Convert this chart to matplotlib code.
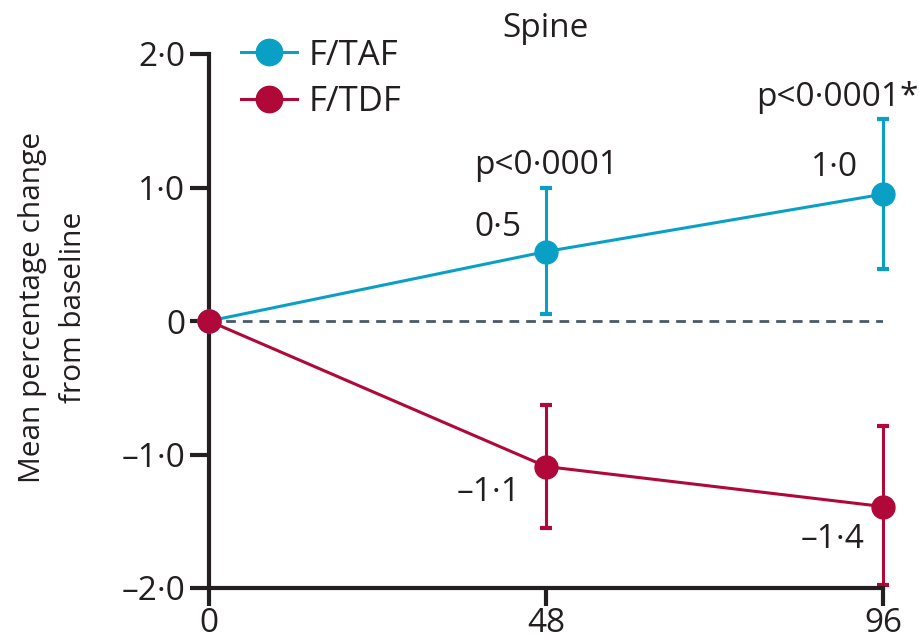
import matplotlib
matplotlib.use("Agg")
import matplotlib.pyplot as plt
from matplotlib.ticker import FixedLocator, FixedFormatter

# 数据
weeks = [0, 48, 96]
taf_mean = [0.0, 0.52, 0.95]
taf_low = [0.0, 0.05, 0.39]
taf_high = [0.0, 1.0, 1.51]
tdf_mean = [0.0, -1.09, -1.39]
tdf_low = [0.0, -1.55, -1.98]
tdf_high = [0.0, -0.63, -0.79]

taf_labels = ["", "0·5", "1·0"]
tdf_labels = ["", "–1·1", "–1·4"]
p_labels = ["", "p<0·0001", "p<0·0001*"]

y_ticks = [-2.0, -1.0, 0.0, 1.0, 2.0]
y_tick_labels = ["–2·0", "–1·0", "0", "1·0", "2·0"]
x_ticks = [0, 48, 96]
x_tick_labels = ["0", "48", "96"]

BLUE = "#0aa0c6"
RED = "#b00838"
TEXT = "#231f20"
FS = 24

plt.rcParams["font.family"] = ["Open Sans", "DejaVu Sans"]

fig = plt.figure(figsize=(9.19, 6.39), dpi=100)
ax = fig.add_axes([209 / 919, 51 / 639, 674 / 919, 534 / 639])

# 零线
ax.plot([0, 96], [0, 0], linestyle=(0, (3.5, 2.5)), color="#4a5a68", linewidth=2, zorder=1)


def draw_series(mean, low, high, color, label):
    lo = [m - l for m, l in zip(mean, low)]
    hi = [h - m for m, h in zip(mean, high)]
    ax.errorbar(weeks[1:], mean[1:], yerr=[lo[1:], hi[1:]],
                fmt="none", ecolor=color, elinewidth=2.2, capsize=4.5, capthick=3,
                clip_on=False, zorder=2)
    ax.plot(weeks, mean, color=color, linewidth=2.2, marker="o", markersize=16.5,
            label=label, clip_on=False, zorder=3)


draw_series(taf_mean, taf_low, taf_high, BLUE, "F/TAF")
draw_series(tdf_mean, tdf_low, tdf_high, RED, "F/TDF")

# 数值标注（偏移量单位：点）
taf_offsets = [None, (-18, 17), (-18, 19)]
tdf_offsets = [None, (-18, -19), (-13, -24)]
p_offsets = [None, (0, 4), (-33, 4)]

for x, m, t, off in zip(weeks, taf_mean, taf_labels, taf_offsets):
    if t:
        ax.annotate(t, (x, m), xytext=off, textcoords="offset points",
                    ha="right", va="center", fontsize=FS, color=TEXT)
for x, m, t, off in zip(weeks, tdf_mean, tdf_labels, tdf_offsets):
    if t:
        ax.annotate(t, (x, m), xytext=off, textcoords="offset points",
                    ha="right", va="center", fontsize=FS, color=TEXT)
for x, h, p, off in zip(weeks, taf_high, p_labels, p_offsets):
    if p:
        ax.annotate(p, (x, h), xytext=off, textcoords="offset points",
                    ha="center", va="bottom", fontsize=FS, color=TEXT,
                    annotation_clip=False)

ax.set_title("Spine", fontsize=FS, color=TEXT, pad=12)

ax.set_xlim(0, 96)
ax.set_ylim(-2.0, 2.0)
ax.xaxis.set_major_locator(FixedLocator(x_ticks))
ax.xaxis.set_major_formatter(FixedFormatter(x_tick_labels))
ax.yaxis.set_major_locator(FixedLocator(y_ticks))
ax.yaxis.set_major_formatter(FixedFormatter(y_tick_labels))

ax.spines["top"].set_visible(False)
ax.spines["right"].set_visible(False)
for s in ("left", "bottom"):
    ax.spines[s].set_linewidth(3)
    ax.spines[s].set_color(TEXT)
ax.tick_params(axis="both", direction="out", width=3, color=TEXT,
               labelsize=FS, labelcolor=TEXT)
ax.tick_params(axis="y", length=14, pad=3)
ax.tick_params(axis="x", length=13, pad=1)

ax.set_ylabel("Mean percentage change\nfrom baseline", fontsize=21.5, color=TEXT,
              linespacing=1.55)
ax.yaxis.set_label_coords(-0.18, 0.525)

ax.legend(loc="upper left", bbox_to_anchor=(0.027, 1.055), frameon=False,
          fontsize=25, handlelength=1.6, handletextpad=0.35, labelspacing=0.35,
          borderaxespad=0, labelcolor=TEXT, markerscale=1.15)

fig.savefig("out.png", dpi=100)
